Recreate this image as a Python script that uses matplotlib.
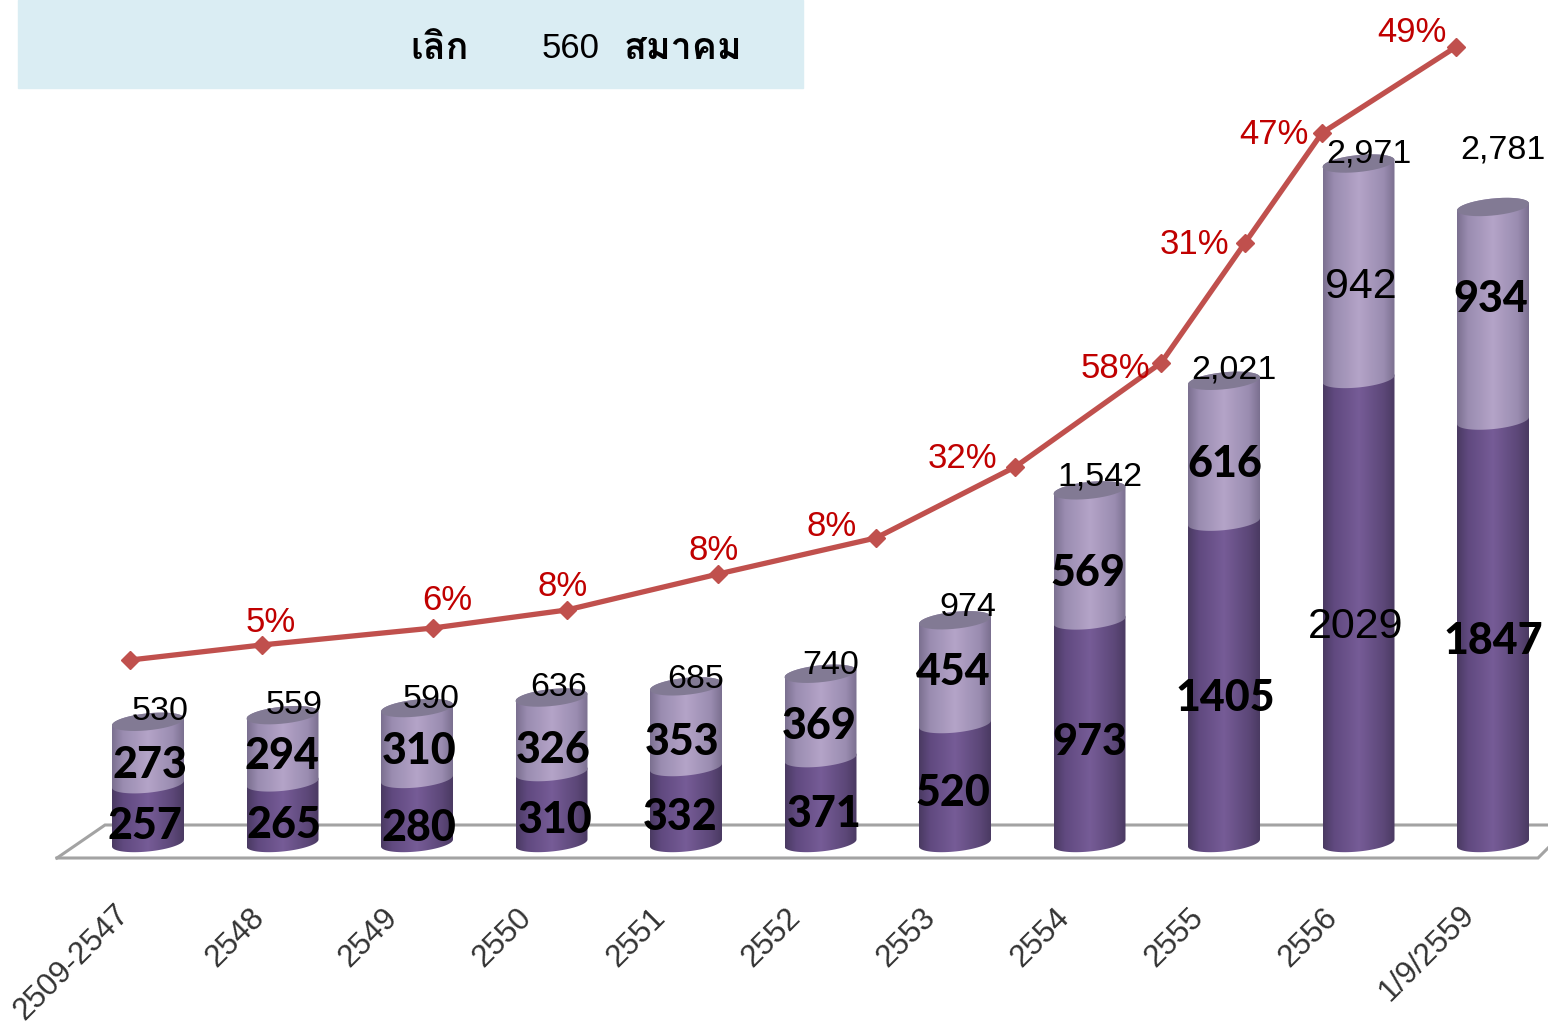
import numpy as np
import matplotlib
matplotlib.use("Agg")
from matplotlib import font_manager
from matplotlib import pyplot as plt
from matplotlib.colors import LinearSegmentedColormap
from matplotlib.patches import PathPatch, Rectangle
from matplotlib.path import Path
from matplotlib.transforms import Affine2D

years = ["2509-2547", "2548", "2549", "2550", "2551", "2552", "2553", "2554", "2555", "2556", "1/9/2559"]
lower = [257, 265, 280, 310, 332, 371, 520, 973, 1405, 2029, 1847]
upper = [273, 294, 310, 326, 353, 369, 454, 569, 616, 942, 934]
totals = ["530", "559", "590", "636", "685", "740", "974", "1,542", "2,021", "2,971", "2,781"]
total_values = [530, 559, 590, 636, 685, 740, 974, 1542, 2021, 2971, 2781]
percents = ["5%", "6%", "8%", "8%", "8%", "32%", "58%", "31%", "47%", "49%"]

# the red line floats over the bars, read in bar units
line_x = [-0.134, 0.848, 2.119, 3.115, 4.238, 5.413, 6.446, 7.532, 8.156, 8.729, 9.725]
line_y = [800, 866, 940, 1019, 1176, 1334, 1644, 2099, 2624, 3105, 3481]

# label spots, pixels from the top left
total_pos = [(160, 711), (294, 705), (431, 700), (559, 687), (696, 680), (831, 666),
             (968, 608), (1100, 477), (1234, 370), (1369, 154), (1503, 150)]
percent_pos = [(271, 623), (447, 600), (563, 586), (714, 551), (832, 526),
               (962, 458), (1115, 369), (1194, 244), (1274, 135), (1412, 32)]
lower_pos = [(145, 826), (284, 825), (419, 828), (555, 820), (680, 817), (824, 814),
             (953, 793), (1090, 742), (1225, 698), (1356, 627), (1493, 641)]
upper_pos = [(150, 765), (282, 756), (419, 751), (553, 750), (682, 742), (819, 726),
             (953, 672), (1088, 573), (1225, 464), (1361, 287), (1491, 299)]
year_pos = [(72, 962), (235, 938), (368, 938), (502, 938), (636, 938), (771, 938),
            (906, 938), (1040, 938), (1174, 938), (1308, 938), (1427, 953)]

W, H = 1548, 1023
X0, DX = 148, 134.5
Y0, DY = 843, 0.2287
HALF_W = 36 / DX
MINOR = 8.5 / DY
TILT = 3.5 / DY

SANS = ["Liberation Sans", "DejaVu Sans"]
dark_cmap = LinearSegmentedColormap.from_list(
    "dark", [(0, "#4a3a62"), (0.15, "#60497f"), (0.5, "#765c97"), (0.85, "#5c4778"), (1, "#4a3a62")])
light_cmap = LinearSegmentedColormap.from_list(
    "light", [(0, "#7b7090"), (0.15, "#9a8cb0"), (0.5, "#b4a4c8"), (0.85, "#9a8cb0"), (1, "#7b7090")])
gradient = np.linspace(0, 1, 128)[None, :]


def thai_family():
    # whichever installed family really carries the Thai letters
    names = []
    for entry in font_manager.fontManager.ttflist:
        try:
            charmap = font_manager.get_font(entry.fname).get_charmap()
        except (OSError, RuntimeError):
            continue
        if all(ord(c) in charmap for c in "เลิกสมาคม") and entry.name not in names:
            names.append(entry.name)
    return names + SANS


def arc(center, value, start, stop):
    t = np.linspace(start, stop, 40)
    return np.column_stack([
        center + HALF_W * np.cos(t),
        value + MINOR * np.sin(t) + TILT * np.cos(t),
    ])


def draw_segment(ax, center, bottom, top, cmap, zorder):
    # front of the lower ellipse, then the back of the upper one
    points = np.vstack([arc(center, bottom, np.pi, 2 * np.pi), arc(center, top, 0, np.pi)])
    patch = PathPatch(Path(points, closed=False), transform=ax.transData)
    image = ax.imshow(gradient, cmap=cmap, aspect="auto", zorder=zorder,
                      extent=(center - HALF_W, center + HALF_W, bottom - 2 * MINOR, top + 2 * MINOR))
    image.set_clip_path(patch)


def main():
    fig = plt.figure(figsize=(W / 100, H / 100), dpi=100)
    ax = fig.add_axes([0, 0, 1, 1])
    ax.axis("off")
    xlim = (-X0 / DX, (W - X0) / DX)
    ylim = ((Y0 - H) / DY, Y0 / DY)
    pixels = Affine2D().scale(1, -1).translate(0, H)

    thai = thai_family()
    ax.add_patch(Rectangle((18, 0), 785, 88, color="#daedf3", transform=pixels, zorder=1))
    ax.text(440, 49, "เลิก", family=thai, fontsize=27, fontweight="bold", ha="center", va="center",
            transform=pixels, zorder=8)
    ax.text(571, 48, "560", family=SANS, fontsize=25, ha="center", va="center", transform=pixels, zorder=8)
    ax.text(683, 49, "สมาคม", family=thai, fontsize=27, fontweight="bold", ha="center", va="center",
            transform=pixels, zorder=8)

    for xs, ys in [((57, 105, 1548), (858, 825, 825)), ((57, 1538, 1548), (858, 858, 848))]:
        ax.plot(xs, ys, color="#a3a3a3", lw=2.2, transform=pixels, zorder=2, solid_joinstyle="miter")

    for i, (low, total) in enumerate(zip(lower, total_values)):
        draw_segment(ax, i, 0, low, dark_cmap, 3)
        draw_segment(ax, i, low, total, light_cmap, 4)
        cap = arc(i, total, 0, 2 * np.pi)
        ax.fill(cap[:, 0], cap[:, 1], color="#827a94", lw=0, zorder=5)

    ax.plot(line_x, line_y, color="#c0504d", lw=3.8, marker="D", ms=9, zorder=6)

    for text, (x, y) in zip(totals, total_pos):
        ax.text(x, y, text, family=SANS, fontsize=24.5, ha="center", va="center", transform=pixels, zorder=8)
    for text, (x, y) in zip(percents, percent_pos):
        ax.text(x, y, text, family=SANS, fontsize=25, color="#c00000", ha="center", va="center",
                transform=pixels, zorder=8)
    for values, spots in [(lower, lower_pos), (upper, upper_pos)]:
        for value, (x, y) in zip(values, spots):
            if value in (2029, 942):
                ax.text(x, y, str(value), family=SANS, fontsize=31, ha="center", va="center",
                        transform=pixels, zorder=8)
            else:
                ax.text(x, y, str(value), family="Lato", fontweight="black", fontsize=31, ha="center",
                        va="center", transform=pixels, zorder=8)
    for text, (x, y) in zip(years, year_pos):
        ax.text(x, y, text, family=SANS, fontsize=22.5, color="#333333", rotation=45, ha="center",
                va="center", transform=pixels, zorder=8)

    ax.set_xlim(*xlim)
    ax.set_ylim(*ylim)
    fig.savefig("out.png", dpi=100)


if __name__ == "__main__":
    main()
